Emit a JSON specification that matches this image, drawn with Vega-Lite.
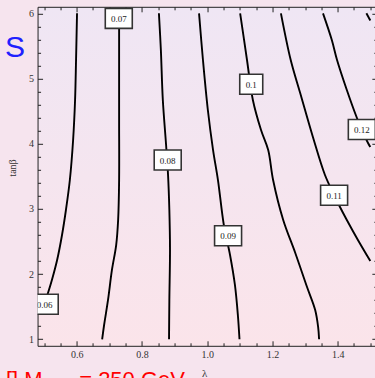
{
  "$schema": "https://vega.github.io/schema/vega-lite/v6.json",
  "width": 339.3,
  "height": 339,
  "autosize": "none",
  "padding": {"left": 37.55, "top": 6.8, "right": 0, "bottom": 32.2},
  "background": "#f6e4ee",
  "config": {
    "view": {"stroke": "#222", "strokeWidth": 1, "fill": {"gradient": "linear", "x1": 0, "y1": 0, "x2": 0, "y2": 1, "stops": [{"offset": 0, "color": "#efe6f4"}, {"offset": 1, "color": "#fbe4ea"}]}},
    "axis": {"grid": false, "domain": false}
  },
  "datasets": {
    "contours": [
      {"c": "0.06", "x": 0.601, "y": 6.0}, {"c": "0.06", "x": 0.598, "y": 5.284}, {"c": "0.06", "x": 0.595, "y": 4.67}, {"c": "0.06", "x": 0.589, "y": 4.057}, {"c": "0.06", "x": 0.579, "y": 3.443}, {"c": "0.06", "x": 0.567, "y": 2.983}, {"c": "0.06", "x": 0.555, "y": 2.6}, {"c": "0.06", "x": 0.54, "y": 2.216}, {"c": "0.06", "x": 0.524, "y": 1.909}, {"c": "0.06", "x": 0.512, "y": 1.71}, {"c": "0.06", "x": 0.5, "y": 1.526},
      {"c": "0.07", "x": 0.73, "y": 6.0}, {"c": "0.07", "x": 0.73, "y": 5.284}, {"c": "0.07", "x": 0.73, "y": 4.364}, {"c": "0.07", "x": 0.73, "y": 3.443}, {"c": "0.07", "x": 0.727, "y": 2.83}, {"c": "0.07", "x": 0.721, "y": 2.446}, {"c": "0.07", "x": 0.708, "y": 2.063}, {"c": "0.07", "x": 0.696, "y": 1.603}, {"c": "0.07", "x": 0.684, "y": 1.219}, {"c": "0.07", "x": 0.678, "y": 1.0},
      {"c": "0.08", "x": 0.852, "y": 6.0}, {"c": "0.08", "x": 0.858, "y": 5.437}, {"c": "0.08", "x": 0.864, "y": 4.67}, {"c": "0.08", "x": 0.874, "y": 3.98}, {"c": "0.08", "x": 0.88, "y": 3.52}, {"c": "0.08", "x": 0.884, "y": 2.983}, {"c": "0.08", "x": 0.886, "y": 2.37}, {"c": "0.08", "x": 0.884, "y": 1.603}, {"c": "0.08", "x": 0.883, "y": 1.0},
      {"c": "0.09", "x": 0.975, "y": 6.0}, {"c": "0.09", "x": 0.987, "y": 5.284}, {"c": "0.09", "x": 1.002, "y": 4.517}, {"c": "0.09", "x": 1.018, "y": 3.903}, {"c": "0.09", "x": 1.033, "y": 3.443}, {"c": "0.09", "x": 1.051, "y": 2.753}, {"c": "0.09", "x": 1.07, "y": 2.293}, {"c": "0.09", "x": 1.085, "y": 1.833}, {"c": "0.09", "x": 1.094, "y": 1.373}, {"c": "0.09", "x": 1.099, "y": 1.0},
      {"c": "0.1", "x": 1.101, "y": 6.0}, {"c": "0.1", "x": 1.122, "y": 5.284}, {"c": "0.1", "x": 1.14, "y": 4.67}, {"c": "0.1", "x": 1.165, "y": 4.21}, {"c": "0.1", "x": 1.187, "y": 3.903}, {"c": "0.1", "x": 1.202, "y": 3.443}, {"c": "0.1", "x": 1.233, "y": 2.83}, {"c": "0.1", "x": 1.27, "y": 2.324}, {"c": "0.1", "x": 1.306, "y": 1.802}, {"c": "0.1", "x": 1.331, "y": 1.449}, {"c": "0.1", "x": 1.34, "y": 1.189}, {"c": "0.1", "x": 1.343, "y": 1.0},
      {"c": "0.11", "x": 1.226, "y": 6.0}, {"c": "0.11", "x": 1.256, "y": 5.284}, {"c": "0.11", "x": 1.285, "y": 4.778}, {"c": "0.11", "x": 1.324, "y": 4.103}, {"c": "0.11", "x": 1.361, "y": 3.52}, {"c": "0.11", "x": 1.389, "y": 3.213}, {"c": "0.11", "x": 1.407, "y": 3.029}, {"c": "0.11", "x": 1.428, "y": 2.83}, {"c": "0.11", "x": 1.462, "y": 2.523}, {"c": "0.11", "x": 1.5, "y": 2.2},
      {"c": "0.12", "x": 1.355, "y": 6.0}, {"c": "0.12", "x": 1.382, "y": 5.591}, {"c": "0.12", "x": 1.398, "y": 5.284}, {"c": "0.12", "x": 1.428, "y": 4.824}, {"c": "0.12", "x": 1.459, "y": 4.394}, {"c": "0.12", "x": 1.474, "y": 4.21}, {"c": "0.12", "x": 1.493, "y": 4.011}, {"c": "0.12", "x": 1.5, "y": 3.949},
      {"c": "0.13", "x": 1.488, "y": 6.0}, {"c": "0.13", "x": 1.5, "y": 5.89}
    ],
    "labels": [
      {"c": "0.06", "x": 0.502, "y": 1.538},
      {"c": "0.07", "x": 0.729, "y": 5.923},
      {"c": "0.08", "x": 0.879, "y": 3.75},
      {"c": "0.09", "x": 1.064, "y": 2.589},
      {"c": "0.1", "x": 1.135, "y": 4.913},
      {"c": "0.11", "x": 1.389, "y": 3.209},
      {"c": "0.12", "x": 1.474, "y": 4.218}
    ],
    "notes": [
      {"k": "s", "t": "S", "x": 0.411, "y": 5.33},
      {"k": "r", "t": "[]\u00a0M\u00a0\u00a0\u00a0\u00a0\u00a0\u00a0=\u00a0250\u00a0GeV", "x": 0.383, "y": 0.268}
    ]
  },
  "resolve": {"axis": {"x": "independent", "y": "independent"}},
  "layer": [
    {
      "data": {"name": "contours"},
      "mark": {"type": "line", "color": "#000", "strokeWidth": 1.9, "interpolate": "catmull-rom", "clip": true},
      "encoding": {
        "x": {"field": "x", "type": "quantitative", "scale": {"domain": [0.48, 1.52], "nice": false, "zero": false},
          "axis": {"orient": "bottom", "values": [0.5, 0.55, 0.6, 0.65, 0.7, 0.75, 0.8, 0.85, 0.9, 0.95, 1.0, 1.05, 1.1, 1.15, 1.2, 1.25, 1.3, 1.35, 1.4, 1.45, 1.5],
            "tickSize": {"condition": {"test": "abs(datum.value*5-round(datum.value*5))<0.001", "value": -5}, "value": -3},
            "tickColor": "#222", "tickWidth": 1,
            "labelExpr": "abs(datum.value*5-round(datum.value*5))<0.001 ? format(datum.value,'.1f') : ''",
            "labelFont": "Liberation Serif", "labelFontSize": 10, "labelColor": "#333", "labelPadding": 8.5, "labelFlush": false, "labelOverlap": false,
            "title": "λ", "titleFont": "Liberation Serif", "titleFontSize": 11, "titleFontWeight": "normal", "titleColor": "#333", "titleX": 166.5, "titleY": 22, "titleAlign": "center", "titleBaseline": "top"}},
        "y": {"field": "y", "type": "quantitative", "scale": {"domain": [0.9, 6.1], "nice": false, "zero": false},
          "axis": {"orient": "left", "values": [1, 1.2, 1.4, 1.6, 1.8, 2, 2.2, 2.4, 2.6, 2.8, 3, 3.2, 3.4, 3.6, 3.8, 4, 4.2, 4.4, 4.6, 4.8, 5, 5.2, 5.4, 5.6, 5.8, 6],
            "tickSize": {"condition": {"test": "abs(datum.value-round(datum.value))<0.001", "value": -5}, "value": -3},
            "tickColor": "#222", "tickWidth": 1,
            "labelExpr": "abs(datum.value-round(datum.value))<0.001 ? format(datum.value,'d') : ''",
            "labelFont": "Liberation Serif", "labelFontSize": 10, "labelColor": "#333", "labelPadding": 9, "labelFlush": false, "labelOverlap": false,
            "title": "tanβ", "titleFont": "Liberation Serif", "titleFontSize": 10, "titleFontWeight": "normal", "titleColor": "#333", "titleX": -20.5, "titleY": 160.7, "titleAngle": -90, "titleAlign": "center", "titleBaseline": "bottom"}},
        "detail": {"field": "c"},
        "order": {"field": "y", "type": "quantitative"}
      }
    },
    {
      "data": {"name": "labels"},
      "transform": [{"filter": "length(datum.c) == 4"}],
      "mark": {"type": "point", "shape": "M-1.35,-1H1.35V1H-1.35Z", "size": 400, "filled": true, "fill": "#fff", "stroke": "#333", "strokeWidth": 1.6, "opacity": 1, "fillOpacity": 1, "strokeOpacity": 1, "clip": true},
      "encoding": {
        "x": {"field": "x", "type": "quantitative", "scale": {"domain": [0.48, 1.52], "nice": false, "zero": false},
          "axis": {"orient": "top", "values": [0.5, 0.55, 0.6, 0.65, 0.7, 0.75, 0.8, 0.85, 0.9, 0.95, 1.0, 1.05, 1.1, 1.15, 1.2, 1.25, 1.3, 1.35, 1.4, 1.45, 1.5],
            "tickSize": {"condition": {"test": "abs(datum.value*5-round(datum.value*5))<0.001", "value": -5}, "value": -3},
            "tickColor": "#222", "tickWidth": 1, "labels": false, "title": null}},
        "y": {"field": "y", "type": "quantitative", "scale": {"domain": [0.9, 6.1], "nice": false, "zero": false},
          "axis": {"orient": "right", "values": [1, 1.2, 1.4, 1.6, 1.8, 2, 2.2, 2.4, 2.6, 2.8, 3, 3.2, 3.4, 3.6, 3.8, 4, 4.2, 4.4, 4.6, 4.8, 5, 5.2, 5.4, 5.6, 5.8, 6],
            "tickSize": {"condition": {"test": "abs(datum.value-round(datum.value))<0.001", "value": -5}, "value": -3},
            "tickColor": "#222", "tickWidth": 1, "labels": false, "title": null}}
      }
    },
    {
      "data": {"name": "labels"},
      "transform": [{"filter": "length(datum.c) == 3"}],
      "mark": {"type": "point", "shape": "M-1.15,-1H1.15V1H-1.15Z", "size": 400, "filled": true, "fill": "#fff", "stroke": "#333", "strokeWidth": 1.6, "opacity": 1, "fillOpacity": 1, "strokeOpacity": 1, "clip": true},
      "encoding": {
        "x": {"field": "x", "type": "quantitative", "scale": {"domain": [0.48, 1.52], "nice": false, "zero": false}, "axis": null},
        "y": {"field": "y", "type": "quantitative", "scale": {"domain": [0.9, 6.1], "nice": false, "zero": false}, "axis": null}
      }
    },
    {
      "data": {"name": "labels"},
      "mark": {"type": "text", "font": "Liberation Serif", "fontSize": 9, "color": "#222", "baseline": "middle", "align": "center", "dy": 0.5, "clip": true},
      "encoding": {
        "x": {"field": "x", "type": "quantitative", "scale": {"domain": [0.48, 1.52], "nice": false, "zero": false}, "axis": null},
        "y": {"field": "y", "type": "quantitative", "scale": {"domain": [0.9, 6.1], "nice": false, "zero": false}, "axis": null},
        "text": {"field": "c"}
      }
    },
    {
      "data": {"name": "notes"},
      "transform": [{"filter": "datum.k == 's'"}],
      "mark": {"type": "text", "font": "Liberation Sans", "fontSize": 30, "color": "#2020ff", "baseline": "alphabetic", "align": "center"},
      "encoding": {
        "x": {"field": "x", "type": "quantitative", "scale": {"domain": [0.48, 1.52], "nice": false, "zero": false}, "axis": null},
        "y": {"field": "y", "type": "quantitative", "scale": {"domain": [0.9, 6.1], "nice": false, "zero": false}, "axis": null},
        "text": {"field": "t"}
      }
    },
    {
      "data": {"name": "notes"},
      "transform": [{"filter": "datum.k == 'r'"}],
      "mark": {"type": "text", "font": "Liberation Sans", "fontSize": 22, "color": "#ff0000", "baseline": "alphabetic", "align": "left"},
      "encoding": {
        "x": {"field": "x", "type": "quantitative", "scale": {"domain": [0.48, 1.52], "nice": false, "zero": false}, "axis": null},
        "y": {"field": "y", "type": "quantitative", "scale": {"domain": [0.9, 6.1], "nice": false, "zero": false}, "axis": null},
        "text": {"field": "t"}
      }
    }
  ]
}
